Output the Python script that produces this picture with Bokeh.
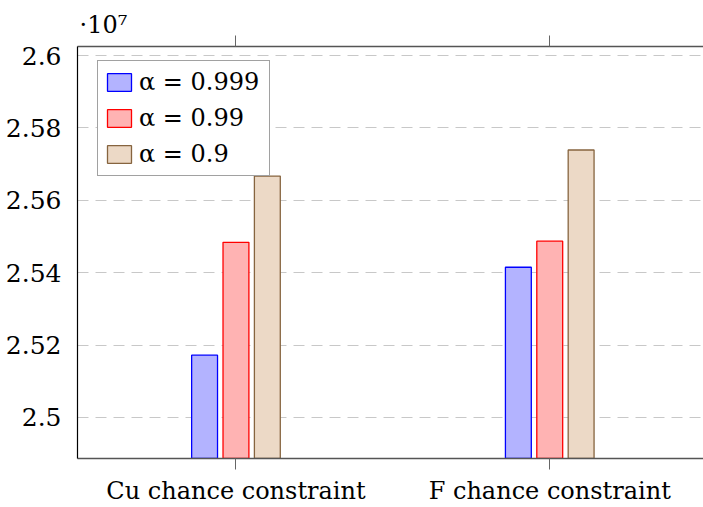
from bokeh.plotting import figure
from bokeh.models import Range1d, FixedTicker, CustomJSTickFormatter, Legend, LegendItem, LinearAxis, ColumnDataSource
from bokeh.embed import file_html
from bokeh.resources import INLINE

categories = ["Cu chance constraint", "F chance constraint"]
series_labels = ["α = 0.999", "α = 0.99", "α = 0.9"]
alpha_0999 = [2.5172e7, 2.5415e7]
alpha_099 = [2.5484e7, 2.5487e7]
alpha_09 = [2.5667e7, 2.5739e7]
y_ticks = [2.50e7, 2.52e7, 2.54e7, 2.56e7, 2.58e7, 2.60e7]

series = [alpha_0999, alpha_099, alpha_09]
fills = ["#b3b3ff", "#ffb3b3", "#ecd9c6"]
lines = ["#0000ff", "#ff0000", "#86643f"]
offsets = [-0.1, 0.0, 0.1]

FONT = "DejaVu Serif"

p = figure(width=703, height=507, output_backend="svg", toolbar_location=None,
           x_range=Range1d(-0.505, 1.49), y_range=Range1d(2.48866e7, 2.6025e7),
           min_border_left=77, min_border_right=0, min_border_top=46, min_border_bottom=49,
           x_axis_location="below")
p.outline_line_color = None
p.background_fill_color = "white"
p.border_fill_color = "white"

xpos = list(range(len(categories)))
renderers = []
for vals, f, lc, off in zip(series, fills, lines, offsets):
    src = ColumnDataSource(dict(x=[x + off for x in xpos], top=vals))
    r = p.vbar(x="x", top="top", bottom=0, width=0.0825, source=src,
               fill_color=f, line_color=lc, line_width=1.3)
    renderers.append(r)

# y axis
p.yaxis.ticker = FixedTicker(ticks=y_ticks)
p.yaxis.formatter = CustomJSTickFormatter(code="return parseFloat((tick/1e7).toFixed(3)).toString();")
p.yaxis.major_tick_line_color = None
p.yaxis.minor_tick_line_color = None
p.yaxis.axis_line_color = "black"
p.yaxis.axis_line_width = 1.2
p.yaxis.major_label_text_font = FONT
p.yaxis.major_label_text_font_size = "25px"
p.yaxis.major_label_text_color = "black"
p.yaxis.major_label_standoff = 10

# x axis
p.xaxis.ticker = FixedTicker(ticks=xpos)
p.xaxis.major_label_overrides = {i: c for i, c in enumerate(categories)}
p.xaxis.minor_tick_line_color = None
p.xaxis.major_tick_in = 0
p.xaxis.major_tick_out = 11
p.xaxis.major_tick_line_color = "#666666"
p.xaxis.axis_line_color = "#555555"
p.xaxis.axis_line_width = 1.5
p.xaxis.major_label_text_font = FONT
p.xaxis.major_label_text_font_size = "24px"
p.xaxis.major_label_text_color = "black"
p.xaxis.major_label_standoff = 7

top_axis = LinearAxis(ticker=FixedTicker(ticks=xpos),
                      major_label_overrides={i: "" for i in xpos},
                      major_tick_in=0, major_tick_out=11, minor_tick_line_color=None,
                      major_tick_line_color="#666666", axis_line_color="#555555",
                      axis_line_width=1.5, major_label_standoff=0)
p.add_layout(top_axis, "above")

p.xgrid.grid_line_color = None
p.ygrid.ticker = FixedTicker(ticks=y_ticks)
p.ygrid.grid_line_color = "#c8c8c8"
p.ygrid.grid_line_dash = "11 7"
p.ygrid.grid_line_width = 1.2

p.title.text = "·10⁷"
p.title.text_font = FONT
p.title.text_font_size = "24px"
p.title.text_font_style = "normal"
p.title.text_color = "black"
p.title.offset = 2
p.title.standoff = -6

legend = Legend(items=[LegendItem(label=l, renderers=[r]) for l, r in zip(series_labels, renderers)],
                location=(20, 282), label_text_font=FONT, label_text_font_size="24px",
                label_text_color="black", label_width=124,
                glyph_width=30, glyph_height=22, label_height=30, spacing=6,
                padding=6, border_line_color="#444444", border_line_width=1.2,
                background_fill_alpha=1.0)
p.add_layout(legend, "center")

open("out.html", "w").write(file_html(p, INLINE))
